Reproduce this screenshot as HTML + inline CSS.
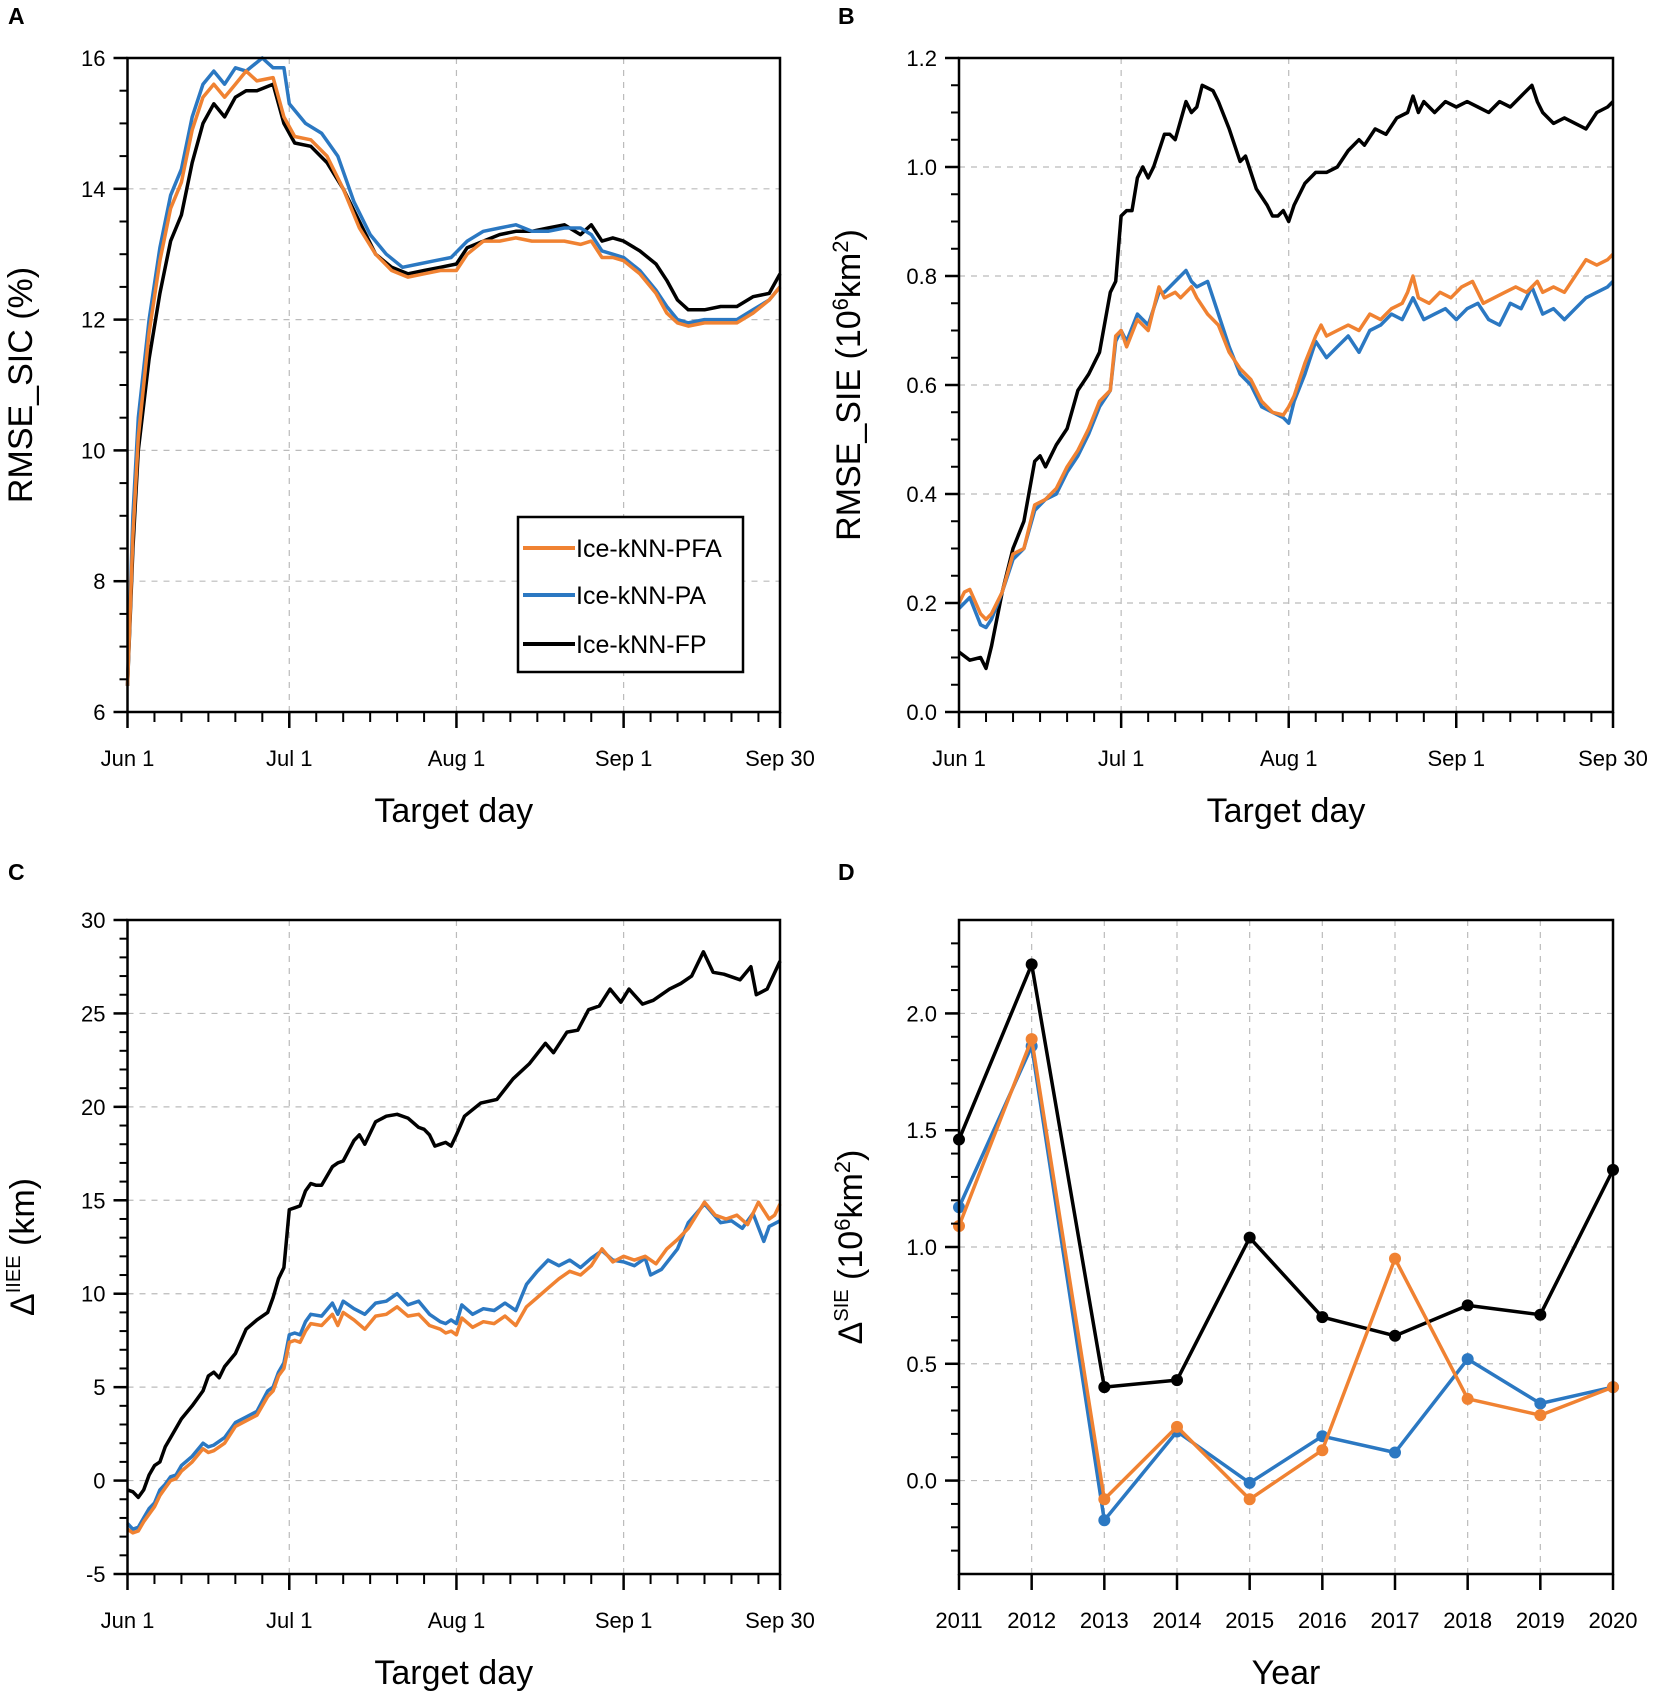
<!DOCTYPE html>
<html><head><meta charset="utf-8"><style>
html,body{margin:0;padding:0;background:#fff;}
svg{display:block;font-family:"Liberation Sans",Arial,sans-serif;}
</style></head><body>
<svg id="fig" width="1654" height="1694" viewBox="0 0 1654 1694" xmlns="http://www.w3.org/2000/svg"></svg>
<script>
// ---------- Panel A data (RMSE_SIC %) ----------
const aDaysFP  = [0,1,2,4,6,8,10,12,14,16,18,20,22,24,27,29,31,34,37,40,43,46,49,52,55,58,61,63,66,69,72,75,78,81,84,86,88,90,92,95,98,100,102,104,107,110,113,116,119,121];
const aFP      = [6.4,8.5,10.0,11.4,12.4,13.2,13.6,14.4,15.0,15.3,15.1,15.4,15.5,15.5,15.6,15.0,14.7,14.65,14.4,14.0,13.5,13.0,12.8,12.7,12.75,12.8,12.85,13.1,13.2,13.3,13.35,13.35,13.4,13.45,13.3,13.45,13.2,13.25,13.2,13.05,12.85,12.6,12.3,12.15,12.15,12.2,12.2,12.35,12.4,12.7];
const aDaysPFA = [0,1,2,4,6,8,10,12,14,16,18,20,22,24,27,29,31,34,37,40,43,46,49,52,55,58,61,63,66,69,72,75,78,81,84,86,88,90,92,95,98,100,102,104,107,110,113,116,119,121];
const aPFA     = [6.4,8.7,10.2,11.8,12.9,13.7,14.1,14.9,15.4,15.6,15.4,15.6,15.8,15.65,15.7,15.1,14.8,14.75,14.5,14.0,13.4,13.0,12.75,12.65,12.7,12.75,12.75,13.0,13.2,13.2,13.25,13.2,13.2,13.2,13.15,13.2,12.95,12.95,12.9,12.7,12.4,12.1,11.95,11.9,11.95,11.95,11.95,12.1,12.3,12.5];
const aDaysPA  = [0,1,2,4,6,8,10,12,14,16,18,20,22,25,27,29,30,33,36,39,42,45,48,51,54,57,60,63,66,69,72,75,78,81,84,86,88,90,92,95,98,100,102,104,107,110,113,116,119,121];
const aPA      = [6.4,9.0,10.5,12.0,13.1,13.9,14.3,15.1,15.6,15.8,15.6,15.85,15.8,16.0,15.85,15.85,15.3,15.0,14.85,14.5,13.8,13.3,13.0,12.8,12.85,12.9,12.95,13.2,13.35,13.4,13.45,13.35,13.35,13.4,13.4,13.3,13.05,13.0,12.95,12.75,12.45,12.2,12.0,11.95,12.0,12.0,12.0,12.15,12.3,12.5];
const aYTicks  = [6,8,10,12,14,16];

// ---------- Panel B data (RMSE_SIE) ----------
const bDaysFP  = [0,2,4,5,6,8,10,12,14,15,16,18,20,22,24,26,28,29,30,31,32,33,34,35,36,38,39,40,42,43,44,45,46,47,48,50,52,53,55,57,58,59,60,61,62,64,66,68,70,72,74,75,77,79,81,83,84,85,86,88,90,92,94,96,98,100,102,104,106,107,108,110,112,114,116,118,120,121];
const bFP      = [0.11,0.095,0.10,0.08,0.12,0.22,0.30,0.35,0.46,0.47,0.45,0.49,0.52,0.59,0.62,0.66,0.77,0.79,0.91,0.92,0.92,0.98,1.00,0.98,1.00,1.06,1.06,1.05,1.12,1.10,1.11,1.15,1.145,1.14,1.12,1.07,1.01,1.02,0.96,0.93,0.91,0.91,0.92,0.90,0.93,0.97,0.99,0.99,1.00,1.03,1.05,1.04,1.07,1.06,1.09,1.10,1.13,1.10,1.12,1.10,1.12,1.11,1.12,1.11,1.10,1.12,1.11,1.13,1.15,1.12,1.10,1.08,1.09,1.08,1.07,1.10,1.11,1.12];
const bDaysPFA = [0,1,2,4,5,6,8,10,12,14,16,18,20,22,24,26,28,29,30,31,33,35,37,38,40,41,43,44,46,48,50,52,54,56,58,60,61,62,64,66,67,68,70,72,74,76,78,80,82,83,84,85,87,89,91,93,95,97,99,101,103,105,107,108,110,112,114,116,118,120,121];
const bPFA     = [0.20,0.22,0.225,0.18,0.17,0.18,0.22,0.29,0.30,0.38,0.39,0.41,0.45,0.48,0.52,0.57,0.59,0.69,0.70,0.67,0.72,0.70,0.78,0.76,0.77,0.76,0.78,0.76,0.73,0.71,0.66,0.63,0.61,0.57,0.55,0.545,0.56,0.58,0.64,0.69,0.71,0.69,0.70,0.71,0.70,0.73,0.72,0.74,0.75,0.77,0.80,0.76,0.75,0.77,0.76,0.78,0.79,0.75,0.76,0.77,0.78,0.77,0.79,0.77,0.78,0.77,0.80,0.83,0.82,0.83,0.84];
const bDaysPA  = [0,2,4,5,6,8,10,12,14,16,18,20,22,24,26,28,29,30,31,33,35,37,38,40,42,43,44,46,48,50,52,54,56,58,60,61,62,64,66,68,70,72,74,76,78,80,82,84,86,88,90,92,94,96,98,100,102,104,106,108,110,112,114,116,118,120,121];
const bPA      = [0.19,0.21,0.16,0.155,0.17,0.22,0.28,0.30,0.37,0.39,0.40,0.44,0.47,0.51,0.56,0.59,0.68,0.70,0.68,0.73,0.71,0.77,0.77,0.79,0.81,0.79,0.78,0.79,0.73,0.67,0.62,0.60,0.56,0.55,0.54,0.53,0.57,0.62,0.68,0.65,0.67,0.69,0.66,0.70,0.71,0.73,0.72,0.76,0.72,0.73,0.74,0.72,0.74,0.75,0.72,0.71,0.75,0.74,0.78,0.73,0.74,0.72,0.74,0.76,0.77,0.78,0.79];
const bYTicks  = [0.0,0.2,0.4,0.6,0.8,1.0,1.2];

// ---------- Panel C data (Delta IIEE km) ----------
const cDaysFP  = [0,1,2,3,4,5,6,7,8,10,12,14,15,16,17,18,20,22,24,26,27,28,29,30,31,32,33,34,35,36,38,39,40,42,43,44,46,48,50,52,54,55,56,57,58,59,60,61,62.5,65.5,68.5,71.5,74.5,77.5,79,81.5,83.5,85.5,87.5,89.5,91.5,93,95.5,97.5,100.5,102.6,104.6,106.8,108.6,110.6,113.6,115.6,116.6,118.6,121];
const cFP      = [-0.5,-0.6,-0.9,-0.5,0.3,0.8,1.0,1.8,2.3,3.3,4.0,4.8,5.6,5.8,5.5,6.1,6.8,8.1,8.6,9.0,9.8,10.8,11.4,14.5,14.6,14.7,15.5,15.9,15.8,15.8,16.8,17.0,17.1,18.2,18.5,18.0,19.2,19.5,19.6,19.4,18.9,18.8,18.5,17.9,18.0,18.1,17.9,18.5,19.5,20.2,20.4,21.5,22.3,23.4,22.9,24.0,24.1,25.2,25.4,26.3,25.6,26.3,25.5,25.7,26.3,26.6,27.0,28.3,27.2,27.1,26.8,27.5,26.0,26.3,27.8];
const cDaysPFA = [0,1,2,3,4,5,6,7,8,9,10,12,14,15,16,18,20,22,24,26,27,28,29,30,31,32,33,34,36,38,39,40,42,44,46,48,50,52,54,56,58,59,60,61,62,64,66,68,70,72,74,76,78,80,82,84,86,88,90,92,94,96,98,100,102,104,107,109,111,113,115,117,119,120,121];
const cPFA     = [-2.6,-2.8,-2.7,-2.2,-1.8,-1.4,-0.8,-0.4,0.0,0.1,0.5,1.0,1.7,1.5,1.6,2.0,2.9,3.2,3.5,4.5,4.8,5.6,6.0,7.4,7.5,7.4,8.0,8.4,8.3,8.9,8.3,9.0,8.6,8.1,8.8,8.9,9.3,8.8,8.9,8.3,8.1,7.9,8.0,7.8,8.7,8.2,8.5,8.4,8.8,8.3,9.3,9.8,10.3,10.8,11.2,11.0,11.5,12.4,11.7,12.0,11.8,12.0,11.6,12.4,12.9,13.5,14.9,14.2,14.0,14.2,13.7,14.9,14.0,14.2,14.8];
const cDaysPA  = [0,1,2,3,4,5,6,7,8,9,10,12,14,15,16,18,20,22,24,26,27,28,29,30,31,32,33,34,36,38,39,40,42,44,46,48,50,52,54,56,58,59,60,61,62,64,66,68,70,72,74,76,78,80,82,84,86,88,90,92,94,96,97,99,102,104,107,110,112,114,116,118,119,121];
const cPA      = [-2.3,-2.6,-2.5,-2.0,-1.5,-1.2,-0.5,-0.2,0.2,0.3,0.8,1.3,2.0,1.8,1.9,2.3,3.1,3.4,3.7,4.8,5.0,5.8,6.3,7.8,7.9,7.8,8.5,8.9,8.8,9.5,8.9,9.6,9.2,8.9,9.5,9.6,10.0,9.4,9.6,8.9,8.5,8.4,8.6,8.4,9.4,8.9,9.2,9.1,9.5,9.1,10.5,11.2,11.8,11.5,11.8,11.4,11.9,12.3,11.8,11.7,11.5,11.9,11.0,11.3,12.4,13.8,14.8,13.8,13.9,13.5,14.3,12.8,13.6,13.9];
const cYTicks  = [-5,0,5,10,15,20,25,30];

// ---------- Panel D data (Delta SIE per year) ----------
const dYears = [2011,2012,2013,2014,2015,2016,2017,2018,2019,2020];
const dFP    = [1.46,2.21,0.40,0.43,1.04,0.70,0.62,0.75,0.71,1.33];
const dPA    = [1.17,1.86,-0.17,0.21,-0.01,0.19,0.12,0.52,0.33,0.40];
const dPFA   = [1.09,1.89,-0.08,0.23,-0.08,0.13,0.95,0.35,0.28,0.40];
const dYTicks = [0.0,0.5,1.0,1.5,2.0];

const xDayTicks = [0,30,61,92,121];
const xDayLabels = ["Jun 1","Jul 1","Aug 1","Sep 1","Sep 30"];
const xMinorDays = [5,10,15,20,25,35,40,45,50,55,66,71,76,81,86,97,102,107,112,117];

const C_FP="#000000", C_PA="#2b78c2", C_PFA="#f08232";
const NS="http://www.w3.org/2000/svg";
const svg=document.getElementById('fig');
function mk(tag,attrs,parent){const e=document.createElementNS(NS,tag);for(const k in attrs)e.setAttribute(k,attrs[k]);(parent||svg).appendChild(e);return e;}

function panel(o){
  const g=mk('g',{});
  
  
  const sx=v=>o.L+(v-o.x0)/(o.x1-o.x0)*(o.R-o.L);
  const sy=v=>o.B-(v-o.y0)/(o.y1-o.y0)*(o.B-o.T);
  o.xMajor.forEach(v=>{const x=sx(v);if(x>o.L+2&&x<o.R-2){const l=mk('line',{x1:x,x2:x,y1:o.T,y2:o.B,stroke:'#bbb','stroke-width':1.2,'stroke-dasharray':'6,6'},g);
    }});
  o.yTicks.forEach(v=>{const y=sy(v);if(y>o.T+2&&y<o.B-2){const l=mk('line',{x1:o.L,x2:o.R,y1:y,y2:y,stroke:'#bbb','stroke-width':1.2,'stroke-dasharray':'6,6'},g);
    }});
  o.series.forEach(s=>{
    const pts=s.x.map((v,i)=>sx(v).toFixed(1)+','+sy(s.y[i]).toFixed(1)).join(' ');
    const pl=mk('polyline',{points:pts,fill:'none',stroke:s.c,'stroke-width':3.5,'stroke-linejoin':'round'},g);
    
    
    if(o.markers){s.x.forEach((v,i)=>{const c=mk('circle',{cx:sx(v),cy:sy(s.y[i]),r:6,fill:s.c},g);
      });}
  });
  const fr=mk('rect',{x:o.L,y:o.T,width:o.R-o.L,height:o.B-o.T,fill:'none',stroke:'#000','stroke-width':2.5},g);
  
  o.yMinor.forEach(v=>mk('line',{x1:o.L-8,x2:o.L,y1:sy(v),y2:sy(v),stroke:'#000','stroke-width':2},g));
  o.yTicks.forEach((v,i)=>{const y=sy(v);mk('line',{x1:o.L-14,x2:o.L,y1:y,y2:y,stroke:'#000','stroke-width':2.5},g);
    const t=mk('text',{x:o.L-22,y:y+8,'text-anchor':'end','font-size':22},g);t.textContent=o.yLab(v);
    });
  o.xMinor.forEach(v=>mk('line',{x1:sx(v),x2:sx(v),y1:o.B,y2:o.B+10,stroke:'#000','stroke-width':2},g));
  o.xMajor.forEach((v,i)=>{const x=sx(v);mk('line',{x1:x,x2:x,y1:o.B,y2:o.B+16,stroke:'#000','stroke-width':2.5},g);
    const t=mk('text',{x:x,y:o.B+54,'text-anchor':'middle','font-size':22},g);t.textContent=o.xLabels[i];
    });
  const xt=mk('text',{x:(o.L+o.R)/2,y:o.B+110,'text-anchor':'middle','font-size':34},g);xt.textContent=o.xTitle;
  
  const cy=(o.T+o.B)/2;
  const yt=mk('text',{x:o.ytx,y:cy,'text-anchor':'middle','font-size':34,transform:`rotate(-90 ${o.ytx} ${cy})`},g);
  
  yt.innerHTML=o.yTitle;
  const pl=mk('text',{x:o.letterX,y:o.letterY,'font-size':23,'font-weight':'bold'},g);pl.textContent=o.letter;
  
}
function range(a,b,s){const r=[];for(let v=a;v<=b+1e-9;v+=s)r.push(+v.toFixed(3));return r;}

panel({name:'panel-a-rmse-sic',L:127.5,R:780,T:58,B:712,x0:0,x1:121,y0:6,y1:16,
  xMajor:xDayTicks,xLabels:xDayLabels,xMinor:xMinorDays,yTicks:aYTicks,yMinor:range(6,16,0.5),yLab:v=>String(v),
  series:[{n:'line-ice-knn-fp',c:C_FP,x:aDaysFP,y:aFP},{n:'line-ice-knn-pa',c:C_PA,x:aDaysPA,y:aPA},{n:'line-ice-knn-pfa',c:C_PFA,x:aDaysPFA,y:aPFA}],
  xTitle:'Target day',ytx:32,yTitle:'RMSE_SIC (%)',letter:'A',letterX:8,letterY:24});
panel({name:'panel-b-rmse-sie',L:959,R:1613,T:58,B:712,x0:0,x1:121,y0:0,y1:1.2,
  xMajor:xDayTicks,xLabels:xDayLabels,xMinor:xMinorDays,yTicks:bYTicks,yMinor:range(0,1.2,0.05),yLab:v=>v.toFixed(1),
  series:[{n:'line-ice-knn-fp',c:C_FP,x:bDaysFP,y:bFP},{n:'line-ice-knn-pa',c:C_PA,x:bDaysPA,y:bPA},{n:'line-ice-knn-pfa',c:C_PFA,x:bDaysPFA,y:bPFA}],
  xTitle:'Target day',ytx:860,yTitle:'RMSE_SIE (10<tspan dy="-12" font-size="22">6</tspan><tspan dy="12">km</tspan><tspan dy="-12" font-size="22">2</tspan><tspan dy="12">)</tspan>',letter:'B',letterX:838,letterY:24});
panel({name:'panel-c-delta-iiee',L:127.5,R:780,T:920,B:1574,x0:0,x1:121,y0:-5,y1:30,
  xMajor:xDayTicks,xLabels:xDayLabels,xMinor:xMinorDays,yTicks:cYTicks,yMinor:range(-5,30,1),yLab:v=>String(v),
  series:[{n:'line-ice-knn-fp',c:C_FP,x:cDaysFP,y:cFP},{n:'line-ice-knn-pa',c:C_PA,x:cDaysPA,y:cPA},{n:'line-ice-knn-pfa',c:C_PFA,x:cDaysPFA,y:cPFA}],
  xTitle:'Target day',ytx:34,yTitle:'Δ<tspan dy="-14" font-size="20">IIEE</tspan><tspan dy="14"> (km)</tspan>',letter:'C',letterX:8,letterY:880});
panel({name:'panel-d-delta-sie',L:959,R:1613,T:920,B:1574,x0:2011,x1:2020,y0:-0.4,y1:2.4,
  xMajor:dYears,xLabels:dYears.map(String),xMinor:[],yTicks:dYTicks,yMinor:range(-0.3,2.3,0.1),yLab:v=>v.toFixed(1),markers:true,
  series:[{n:'line-ice-knn-fp',c:C_FP,x:dYears,y:dFP},{n:'line-ice-knn-pa',c:C_PA,x:dYears,y:dPA},{n:'line-ice-knn-pfa',c:C_PFA,x:dYears,y:dPFA}],
  xTitle:'Year',ytx:862,yTitle:'Δ<tspan dy="-14" font-size="20">SIE</tspan><tspan dy="14"> (10</tspan><tspan dy="-12" font-size="22">6</tspan><tspan dy="12">km</tspan><tspan dy="-12" font-size="22">2</tspan><tspan dy="12">)</tspan>',letter:'D',letterX:838,letterY:880});

const lg=mk('g',{});


mk('rect',{x:518,y:517,width:225,height:155,fill:'#fff',stroke:'#000','stroke-width':2.5},lg);
const legItems=[['Ice-kNN-PFA',C_PFA,548],['Ice-kNN-PA',C_PA,595],['Ice-kNN-FP',C_FP,644]];
legItems.forEach(it=>{
  const e=mk('g',{},lg);
  
  
  mk('line',{x1:523,x2:575,y1:it[2],y2:it[2],stroke:it[1],'stroke-width':4},e);
  const t=mk('text',{x:576,y:it[2]+9,'font-size':25},e);t.textContent=it[0];
});
</script>
</body></html>
